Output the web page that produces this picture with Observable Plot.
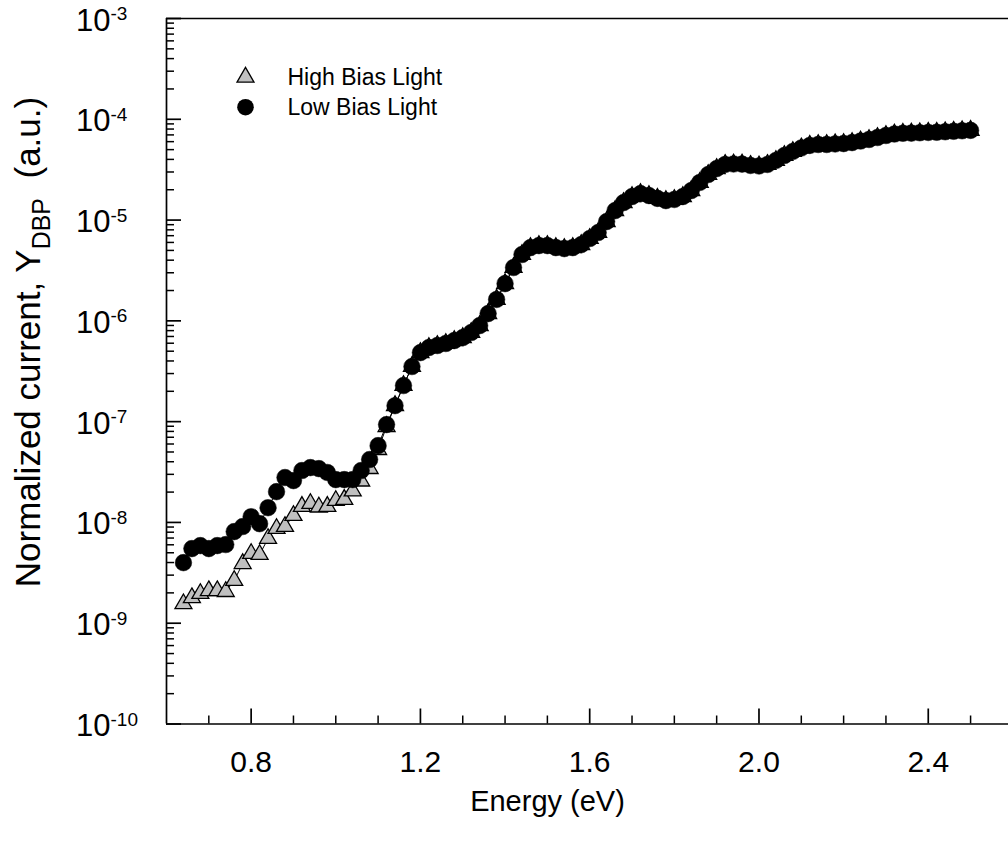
<!DOCTYPE html>
<html><head><meta charset="utf-8">
<script src="https://cdn.jsdelivr.net/npm/d3@7"></script>
<script src="https://cdn.jsdelivr.net/npm/@observablehq/plot@0.6"></script>
<style>html,body{margin:0;padding:0;background:#fff;} svg{display:block;}</style>
</head><body><div id="chart"></div>
<script>
const energy = [0.64,0.66,0.68,0.70,0.72,0.74,0.76,0.78,0.80,0.82,0.84,0.86,0.88,0.90,0.92,0.94,0.96,0.98,1.00,1.02,1.04,1.06,1.08,1.10,1.12,1.14,1.16,1.18,1.20,1.22,1.24,1.26,1.28,1.30,1.32,1.34,1.36,1.38,1.40,1.42,1.44,1.46,1.48,1.50,1.52,1.54,1.56,1.58,1.60,1.62,1.64,1.66,1.68,1.70,1.72,1.74,1.76,1.78,1.80,1.82,1.84,1.86,1.88,1.90,1.92,1.94,1.96,1.98,2.00,2.02,2.04,2.06,2.08,2.10,2.12,2.14,2.16,2.18,2.20,2.22,2.24,2.26,2.28,2.30,2.32,2.34,2.36,2.38,2.40,2.42,2.44,2.46,2.48,2.50];
const lowBias = [3.99e-9,5.50e-9,5.89e-9,5.50e-9,5.89e-9,6.03e-9,8.11e-9,9.10e-9,1.14e-8,9.72e-9,1.40e-8,2.02e-8,2.79e-8,2.60e-8,3.27e-8,3.50e-8,3.42e-8,3.13e-8,2.66e-8,2.66e-8,2.66e-8,3.27e-8,4.21e-8,5.78e-8,9.35e-8,1.44e-7,2.28e-7,3.52e-7,4.84e-7,5.43e-7,5.69e-7,5.96e-7,6.37e-7,6.82e-7,7.66e-7,8.97e-7,1.18e-6,1.63e-6,2.34e-6,3.38e-6,4.55e-6,5.33e-6,5.58e-6,5.58e-6,5.33e-6,5.21e-6,5.33e-6,5.71e-6,6.56e-6,7.52e-6,9.66e-6,1.24e-5,1.49e-5,1.71e-5,1.83e-5,1.75e-5,1.64e-5,1.56e-5,1.60e-5,1.71e-5,1.96e-5,2.36e-5,2.83e-5,3.24e-5,3.56e-5,3.60e-5,3.59e-5,3.48e-5,3.44e-5,3.56e-5,3.90e-5,4.37e-5,4.79e-5,5.19e-5,5.50e-5,5.62e-5,5.62e-5,5.69e-5,5.74e-5,5.87e-5,6.08e-5,6.30e-5,6.59e-5,6.90e-5,7.14e-5,7.26e-5,7.29e-5,7.35e-5,7.40e-5,7.43e-5,7.52e-5,7.60e-5,7.69e-5,7.76e-5];
const highBias = [1.56e-9,1.79e-9,1.97e-9,2.10e-9,2.10e-9,2.06e-9,2.65e-9,3.90e-9,4.91e-9,4.80e-9,6.92e-9,8.69e-9,9.10e-9,1.17e-8,1.44e-8,1.54e-8,1.42e-8,1.44e-8,1.65e-8,1.69e-8,2.05e-8,2.57e-8,3.42e-8,5.28e-8,8.93e-8,1.44e-7,2.28e-7,3.52e-7,4.84e-7,5.43e-7,5.69e-7,5.96e-7,6.37e-7,6.82e-7,7.66e-7,8.97e-7,1.18e-6,1.63e-6,2.34e-6,3.38e-6,4.55e-6,5.33e-6,5.58e-6,5.58e-6,5.33e-6,5.21e-6,5.33e-6,5.71e-6,6.56e-6,7.52e-6,9.66e-6,1.24e-5,1.49e-5,1.71e-5,1.83e-5,1.75e-5,1.64e-5,1.56e-5,1.60e-5,1.71e-5,1.96e-5,2.36e-5,2.83e-5,3.24e-5,3.56e-5,3.60e-5,3.59e-5,3.48e-5,3.44e-5,3.56e-5,3.90e-5,4.37e-5,4.79e-5,5.19e-5,5.50e-5,5.62e-5,5.62e-5,5.69e-5,5.74e-5,5.87e-5,6.08e-5,6.30e-5,6.59e-5,6.90e-5,7.14e-5,7.26e-5,7.29e-5,7.35e-5,7.40e-5,7.43e-5,7.52e-5,7.60e-5,7.69e-5,7.76e-5];
const seriesNames = ["High Bias Light", "Low Bias Light"];
const xMajorTicks = [0.8, 1.2, 1.6, 2.0, 2.4];
const xMinorTicks = [0.7, 0.9, 1.0, 1.1, 1.3, 1.4, 1.5, 1.7, 1.8, 1.9, 2.1, 2.2, 2.3, 2.5];
const xTickLabels = ["0.8", "1.2", "1.6", "2.0", "2.4"];
const yMajorTicks = [1e-10, 1e-9, 1e-8, 1e-7, 1e-6, 1e-5, 1e-4, 1e-3];
const yExponentLabels = ["-10", "-9", "-8", "-7", "-6", "-5", "-4", "-3"];
const xDomain = [0.6, 2.5896];
const yDomain = [1e-10, 1e-3];
const xTitle = "Energy (eV)";

const yMinorTicks = [];
for (let k = 0; k < yMajorTicks.length - 1; k++) for (let m = 2; m <= 9; m++) yMinorTicks.push(m * yMajorTicks[k]);

const rows = energy.map((e, i) => ({energy: e, high: highBias[i], low: lowBias[i]}));

const W = 1008, H = 845, mL = 166, mR = 0, mT = 18, mB = 121.5;
const plotW = W - mL - mR, plotH = H - mT - mB;
const font = "'Liberation Sans', Arial, sans-serif";

const chart = Plot.plot({
  width: W, height: H,
  marginLeft: mL, marginRight: mR, marginTop: mT, marginBottom: mB,
  style: {fontFamily: font, background: "white", color: "black"},
  x: {domain: xDomain, axis: null},
  y: {type: "log", domain: yDomain, axis: null},
  marks: [
    Plot.ruleX([xDomain[0]], {x: d => d, stroke: "black", strokeWidth: 1.7}),
    Plot.ruleY([yDomain[0], yDomain[1]], {y: d => d, stroke: "black", strokeWidth: 1.7}),
    Plot.tickY(yMajorTicks, {y: d => d, insetRight: plotW - 15, stroke: "black", strokeWidth: 1.7}),
    Plot.tickY(yMinorTicks, {y: d => d, insetRight: plotW - 8, stroke: "black", strokeWidth: 1.5}),
    Plot.tickX(xMajorTicks, {x: d => d, insetTop: plotH - 15, stroke: "black", strokeWidth: 1.7}),
    Plot.tickX(xMinorTicks, {x: d => d, insetTop: plotH - 8, stroke: "black", strokeWidth: 1.5}),
    Plot.line(rows, {x: "energy", y: "high", stroke: "black", strokeWidth: 1}),
    Plot.line(rows, {x: "energy", y: "low", stroke: "black", strokeWidth: 1}),
    Plot.dot(rows, {x: "energy", y: "high", symbol: "triangle", r: 6.3, fill: "#c0c0c0", stroke: "black", strokeWidth: 1.3}),
    Plot.dot(rows, {x: "energy", y: "low", r: 8.3, fill: "black", stroke: "black", strokeWidth: 0.5}),
    // tick labels
    Plot.text(xMajorTicks, {x: d => d, frameAnchor: "bottom", text: (d, i) => xTickLabels[i], dy: 47.5, lineAnchor: "bottom", fontSize: 30}),
    Plot.text(yMajorTicks, {y: d => d, frameAnchor: "left", text: () => "10", textAnchor: "end", dx: -56, dy: 12, lineAnchor: "bottom", fontSize: 31}),
    Plot.text(yMajorTicks, {y: d => d, frameAnchor: "left", text: (d, i) => yExponentLabels[i], textAnchor: "start", dx: -56, dy: 1.5, lineAnchor: "bottom", fontSize: 19}),
    // x title
    Plot.text([xTitle], {frameAnchor: "bottom-left", text: d => d, dx: 381, dy: 86.5, lineAnchor: "bottom", textAnchor: "middle", fontSize: 29}),
    // legend
    Plot.dot([seriesNames[0]], {frameAnchor: "top-left", dx: 79, dy: 58.7, symbol: "triangle", r: 6.3, fill: "#c0c0c0", stroke: "black", strokeWidth: 1.3}),
    Plot.dot([seriesNames[1]], {frameAnchor: "top-left", dx: 79, dy: 88.7, r: 8.3, fill: "black"}),
    Plot.text([seriesNames[0]], {frameAnchor: "top-left", text: d => d, dx: 121, dy: 66, lineAnchor: "bottom", textAnchor: "start", fontSize: 23}),
    Plot.text([seriesNames[1]], {frameAnchor: "top-left", text: d => d, dx: 121, dy: 96, lineAnchor: "bottom", textAnchor: "start", fontSize: 23})
  ]
});

// y-axis title with subscript
const svg = d3.select(chart);
const t = svg.append("text")
  .attr("transform", "translate(40,342) rotate(-90)")
  .attr("text-anchor", "middle")
  .attr("fill", "black")
  .attr("xml:space", "preserve")
  .style("font-family", font)
  .style("font-size", "35px");
t.append("tspan").text("Normalized current, Y");
t.append("tspan").attr("dy", 10).style("font-size", "25px").text("DBP");
t.append("tspan").attr("dy", -10).text("\u00a0 (a.u.)");

document.getElementById("chart").appendChild(chart);
</script>
</body></html>
